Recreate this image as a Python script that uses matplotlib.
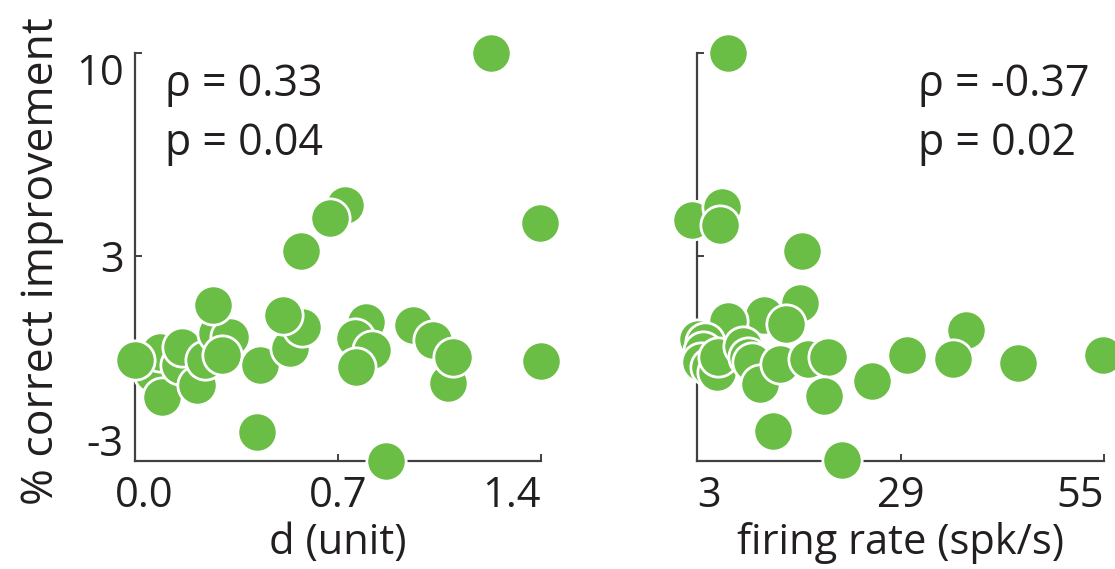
import matplotlib
matplotlib.use("Agg")
import matplotlib.pyplot as plt
from matplotlib import transforms

plt.rcParams['font.family'] = ['Open Sans', 'DejaVu Sans']

# distance between units vs. improvement
d_unit = [1.228, 1.397, 1.400, 0.724, 0.672, 0.572, 0.421, 0.866,
          0.062, 0.093, 0.086, 0.155, 0.162, 0.214, 0.241, 0.283,
          0.328, 0.300, 0.269, 0.431, 0.534, 0.576, 0.510, 0.000,
          0.797, 0.759, 0.817, 0.762, 0.959, 1.028, 1.079, 1.097]
improve_d = [10.0, 4.14, -0.62, 4.76, 4.31, 3.17, -3.07, -4.07,
             -1.03, -1.86, -0.31, -0.76, -0.14, -1.45, -0.59, 0.34,
             0.21, -0.41, 1.31, -0.76, -0.17, 0.55, 0.97, -0.59,
             0.72, 0.17, -0.24, -0.83, 0.62, 0.10, -1.38, -0.48]

# firing rate vs. improvement
rate = [6.92, 2.36, 6.19, 5.94, 16.41, 16.15, 11.56, 14.37,
        6.96, 3.13, 4.02, 3.77, 3.51, 4.66, 5.55, 5.68,
        8.87, 9.51, 10.02, 11.05, 13.60, 17.18, 19.73, 19.22,
        25.35, 12.71, 21.52, 29.82, 37.36, 35.70, 44.0, 54.85]
improve_r = [10.0, 4.24, 4.69, 4.07, 3.17, 1.38, 0.97, 0.66,
             0.76, 0.14, 0.03, -0.28, -0.66, -0.83, -1.0, -0.48,
             -0.10, -0.48, -0.66, -1.41, -0.72, -0.55, -0.48, -1.83,
             -1.31, -3.03, -4.03, -0.41, 0.45, -0.55, -0.69, -0.41]

stats = [("ρ = 0.33", "p = 0.04"), ("ρ = -0.37", "p = 0.02")]

green = "#6abd45"
ink = "#231f20"
axcol = "#404040"
fs = 30

fig = plt.figure(figsize=(11.15, 5.69), dpi=100)
ax1 = fig.add_axes([135 / 1115, 108 / 569, 406 / 1115, 408 / 569])
ax2 = fig.add_axes([697 / 1115, 108 / 569, 407 / 1115, 408 / 569])


def style(ax, xlim, xticks, xlabels, ylabels=True):
    ax.set_xlim(*xlim)
    ax.set_ylim(-4.07, 10)
    for s in ["top", "right"]:
        ax.spines[s].set_visible(False)
    for s in ["left", "bottom"]:
        ax.spines[s].set_color(axcol)
        ax.spines[s].set_linewidth(1.6)
    ax.tick_params(direction="in", length=5, width=1.4, color=axcol,
                   labelsize=fs, labelcolor=ink)
    ax.tick_params(axis="x", pad=10)
    ax.tick_params(axis="y", pad=8)
    ax.set_xticks(xticks)
    ax.set_xticklabels(xlabels)
    ax.set_yticks([-3, 3, 10])
    ax.yaxis.get_major_ticks()[0].tick1line.set_visible(False)
    if ylabels:
        ax.set_yticklabels(["-3", "3", "10"])
        lbls = ax.get_yticklabels()
        lbls[2].set_va("top")
        lbls[0].set_transform(lbls[0].get_transform() +
                              transforms.ScaledTranslation(0, -10 / 100, fig.dpi_scale_trans))
    else:
        ax.set_yticklabels([])


style(ax1, (0, 1.4), [0, 0.7, 1.4], ["0.0", "0.7", "1.4"])
style(ax2, (3, 55), [3, 29, 55], ["3", "29", "55"], ylabels=False)

xl1 = ax1.get_xticklabels()
xl1[0].set_transform(xl1[0].get_transform() +
                     transforms.ScaledTranslation(9 / 100, 0, fig.dpi_scale_trans))
xl1[2].set_ha("right")
xl2 = ax2.get_xticklabels()
xl2[0].set_ha("left")
xl2[2].set_ha("right")

ax1.scatter(d_unit, improve_d, s=800, color=green, edgecolor="white",
            linewidth=2.0, clip_on=False, zorder=5)
ax2.scatter(rate, improve_r, s=800, color=green, edgecolor="white",
            linewidth=2.0, clip_on=False, zorder=5)

ax1.set_xlabel("d (unit)", fontsize=fs, color=ink, labelpad=4)
ax2.set_xlabel("firing rate (spk/s)", fontsize=fs, color=ink, labelpad=4)
ax1.set_ylabel("% correct improvement", fontsize=32, color=ink)
ax1.yaxis.set_label_coords(-0.175, 0.49)

for ax, (r, p), x0 in [(ax1, stats[0], 0.074), (ax2, stats[1], 0.543)]:
    ax.text(x0, 0.895, r, transform=ax.transAxes, fontsize=31, color=ink,
            va="baseline", ha="left")
    ax.text(x0, 0.750, p, transform=ax.transAxes, fontsize=31, color=ink,
            va="baseline", ha="left")

fig.savefig("out.png", dpi=100)
